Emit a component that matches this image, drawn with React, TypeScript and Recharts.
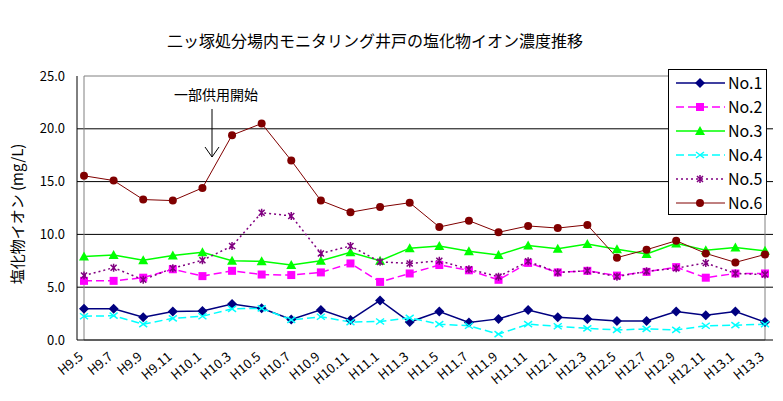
import { CartesianGrid, Legend, Line, LineChart, ReferenceArea, XAxis, YAxis } from "recharts";

const months = [
  "H9.5", "H9.7", "H9.9", "H9.11", "H10.1", "H10.3", "H10.5", "H10.7", "H10.9", "H10.11", "H11.1", "H11.3",
  "H11.5", "H11.7", "H11.9", "H11.11", "H12.1", "H12.3", "H12.5", "H12.7", "H12.9", "H12.11", "H13.1", "H13.3",
];
const no1 = [2.95, 2.95, 2.15, 2.7, 2.75, 3.4, 3.0, 1.95, 2.85, 1.9, 3.75, 1.7, 2.7, 1.65, 2.0, 2.85, 2.15, 2.0, 1.8, 1.8, 2.7, 2.35, 2.7, 1.7];
const no2 = [5.6, 5.6, 5.9, 6.7, 6.05, 6.55, 6.2, 6.15, 6.4, 7.25, 5.5, 6.3, 7.1, 6.6, 5.7, 7.3, 6.4, 6.55, 6.1, 6.45, 6.9, 5.9, 6.3, 6.3];
const no3 = [7.9, 8.05, 7.55, 8.0, 8.3, 7.5, 7.45, 7.1, 7.5, 8.3, 7.5, 8.7, 8.9, 8.4, 8.05, 8.95, 8.65, 9.1, 8.6, 8.15, 9.15, 8.5, 8.75, 8.45];
const no4 = [2.25, 2.3, 1.5, 2.05, 2.25, 2.95, 3.0, 1.9, 2.2, 1.7, 1.75, 2.1, 1.5, 1.35, 0.55, 1.5, 1.3, 1.1, 0.95, 1.05, 0.95, 1.35, 1.4, 1.5];
const no5 = [6.1, 6.85, 5.7, 6.8, 7.55, 8.9, 12.05, 11.75, 8.2, 8.9, 7.4, 7.25, 7.5, 6.7, 6.0, 7.45, 6.4, 6.55, 6.0, 6.5, 6.8, 7.3, 6.3, 6.2];
const no6 = [15.55, 15.1, 13.3, 13.2, 14.4, 19.4, 20.5, 17.0, 13.2, 12.1, 12.6, 13.0, 10.7, 11.3, 10.2, 10.8, 10.6, 10.9, 7.8, 8.55, 9.4, 8.2, 7.35, 8.1];
const yTicks = [0, 5, 10, 15, 20, 25];

const data = months.map((m, i) => ({
  month: m,
  no1: no1[i],
  no2: no2[i],
  no3: no3[i],
  no4: no4[i],
  no5: no5[i],
  no6: no6[i],
}));

const FONT = "'Noto Sans CJK JP', 'Noto Sans', sans-serif";

const series = [
  { key: "no1", name: "No.1", color: "#000080", dash: undefined, shape: "diamond", width: 1.5 },
  { key: "no2", name: "No.2", color: "#ff00ff", dash: "8 4", shape: "square", width: 1.5 },
  { key: "no3", name: "No.3", color: "#00ff00", dash: undefined, shape: "triangle", width: 1.5 },
  { key: "no4", name: "No.4", color: "#00ffff", dash: "8 4", shape: "cross", width: 1.5 },
  { key: "no5", name: "No.5", color: "#800080", dash: "2 3", shape: "star", width: 1.5 },
  { key: "no6", name: "No.6", color: "#800000", dash: undefined, shape: "circle", width: 1 },
];

function Marker({ shape, x, y, color }: { shape: string; x: number; y: number; color: string }) {
  if (shape === "diamond")
    return <path d={`M${x},${y - 5}L${x + 5},${y}L${x},${y + 5}L${x - 5},${y}Z`} fill={color} />;
  if (shape === "square") return <rect x={x - 4} y={y - 4} width={8} height={8} fill={color} />;
  if (shape === "triangle")
    return <path d={`M${x},${y - 5}L${x + 5},${y + 4}L${x - 5},${y + 4}Z`} fill={color} />;
  if (shape === "circle") return <circle cx={x} cy={y} r={4} fill={color} />;
  if (shape === "cross")
    return (
      <path d={`M${x - 4},${y - 3}L${x + 4},${y + 3}M${x - 4},${y + 3}L${x + 4},${y - 3}`} stroke={color} strokeWidth={1.5} />
    );
  return (
    <path
      d={`M${x - 3},${y - 3}L${x + 3},${y + 3}M${x - 3},${y + 3}L${x + 3},${y - 3}M${x},${y - 4}L${x},${y + 4}`}
      stroke={color}
      strokeWidth={1.5}
    />
  );
}

function makeDot(shape: string, color: string) {
  return (p: any) => (
    <g key={`${shape}-${p.index}`}>
      <Marker shape={shape} x={p.cx} y={p.cy} color={color} />
    </g>
  );
}

function LegendBox() {
  return (
    <div
      style={{
        width: 97,
        height: 144,
        background: "#fff",
        border: "1px solid #000",
      }}
    >
      <svg width={97} height={144}>
        {series.map((s, i) => {
          const y = 13 + i * 24;
          return (
            <g key={s.key}>
              <line x1={7} y1={y} x2={56} y2={y} stroke={s.color} strokeWidth={s.width} strokeDasharray={s.dash} />
              <Marker shape={s.shape} x={31} y={y} color={s.color} />
              <text x={59} y={y + 6} fontSize={16} fontFamily={FONT} fill="#000">
                {s.name}
              </text>
            </g>
          );
        })}
      </svg>
    </div>
  );
}

export default function App() {
  return (
    <div style={{ position: "relative", width: 783, height: 401, background: "#f0f0f0", margin: -8 }}>
      <div style={{ position: "absolute", left: 5, top: 5, width: 772, height: 390, background: "#fff" }} />
      <div
        style={{
          position: "absolute",
          left: 75,
          top: 31,
          width: 600,
          textAlign: "center",
          whiteSpace: "nowrap",
          fontFamily: FONT,
          fontSize: 16,
          lineHeight: "18px",
          color: "#000",
        }}
      >
        二ッ塚処分場内モニタリング井戸の塩化物イオン濃度推移
      </div>
      <div style={{ position: "absolute", left: 0, top: 0 }}>
        <LineChart width={783} height={401} data={data} margin={{ top: 76, right: 10, bottom: 0, left: 17 }}>
          <ReferenceArea y1={0} y2={25} fill="none" stroke="#808080" strokeWidth={1} ifOverflow="visible" />
          <CartesianGrid horizontal vertical={false} stroke="#000" horizontalValues={[5, 10, 15, 20]} />
          <XAxis
            dataKey="month"
            scale="point"
            padding={{ left: 7, right: 8 }}
            height={61}
            interval={0}
            angle={-40}
            textAnchor="end"
            tickLine={false}
            tickSize={4}
            tickMargin={7}
            dx={-6}
            axisLine={{ stroke: "#000" }}
            tick={{ fill: "#000", fontSize: 13, fontFamily: FONT, textAnchor: "end" }}
          />
          <YAxis
            domain={[0, 25]}
            ticks={yTicks}
            width={60}
            tickLine={false}
            tickSize={0}
            tickMargin={12}
            axisLine={{ stroke: "#000" }}
            tickFormatter={(v: number) => v.toFixed(1)}
            tick={{ fill: "#000", fontSize: 13, fontFamily: FONT }}
            label={{
              content: () => (
                <text
                  x={23}
                  y={214}
                  transform="rotate(-90 23 214)"
                  textAnchor="middle"
                  fontSize={15}
                  fontFamily={FONT}
                  fill="#000"
                >
                  塩化物イオン (mg/L)
                </text>
              ),
            }}
          />
          <Legend
            layout="vertical"
            align="center"
            verticalAlign="middle"
            wrapperStyle={{ position: "absolute", left: 668, top: 69, width: 99, height: 146 }}
            content={() => <LegendBox />}
          />
          {series.map((s) => (
            <Line
              key={s.key}
              type="linear"
              dataKey={s.key}
              name={s.name}
              stroke={s.color}
              strokeWidth={s.width}
              strokeDasharray={s.dash}
              dot={makeDot(s.shape, s.color)}
              activeDot={false}
              isAnimationActive={false}
            />
          ))}
        </LineChart>
      </div>
      <svg width={783} height={401} style={{ position: "absolute", left: 0, top: 0, pointerEvents: "none" }}>
        <text x={216} y={100} textAnchor="middle" fontSize={14} fontFamily={FONT} fill="#000">
          一部供用開始
        </text>
        <path d="M212,109L212,157M205,147L212,157L219,147" stroke="#000" fill="none" strokeWidth={1} />
      </svg>
    </div>
  );
}
